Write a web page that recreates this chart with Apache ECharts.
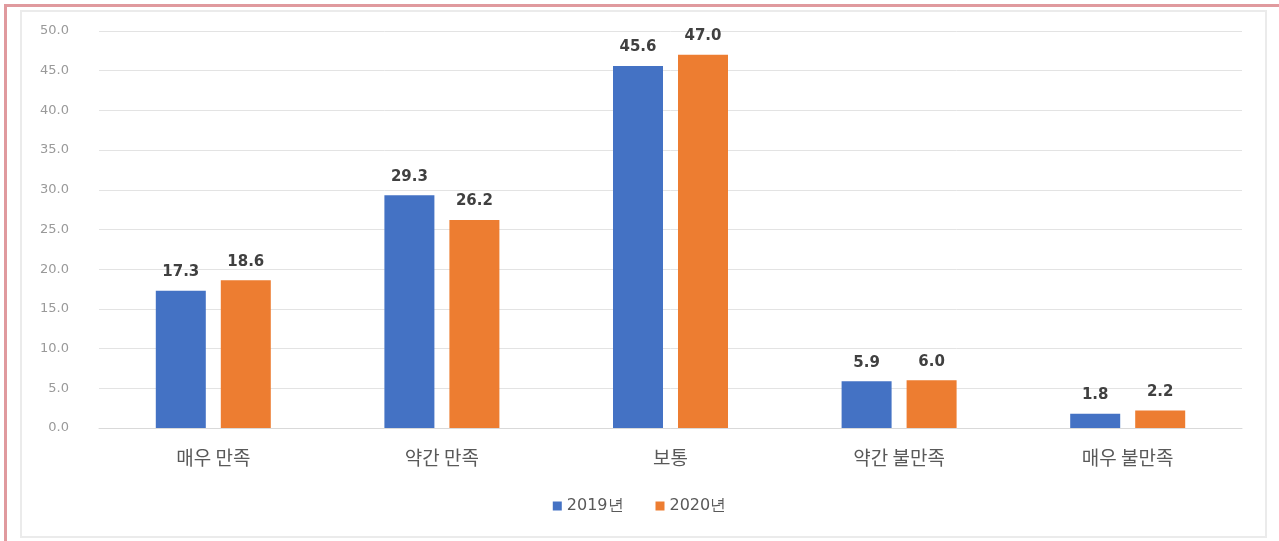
<!DOCTYPE html>
<html><head><meta charset="utf-8">
<script src="https://cdn.jsdelivr.net/npm/echarts@6/dist/echarts.min.js"></script>
<style>
html,body{margin:0;padding:0;background:#fff;}
#frame{position:absolute;left:4px;top:4px;width:1275px;height:537px;border-left:3px solid #e09a9e;border-top:3px solid #e09a9e;box-sizing:border-box;}
#inner{position:absolute;left:20px;top:10px;width:1247px;height:528px;border:2px solid #ebebeb;box-sizing:border-box;}
#chart{position:absolute;left:0;top:0;width:1279px;height:541px;}
</style></head>
<body>
<div id="frame"></div><div id="inner"></div>
<div id="chart"></div>
<script>
const categories = ['매우 만족', '약간 만족', '보통', '약간 불만족', '매우 불만족'];
const seriesNames = ['2019년', '2020년'];
const values2019 = [17.3, 29.3, 45.6, 5.9, 1.8];
const values2020 = [18.6, 26.2, 47.0, 6.0, 2.2];
const colors = ['#4472C4', '#ED7D31'];

const chart = echarts.init(document.getElementById('chart'), null, {renderer: 'canvas'});
const labelCfg = {
  show: true, position: 'top', distance: 11,
  formatter: p => p.value.toFixed(1),
  fontFamily: 'DejaVu Sans', fontSize: 15, fontWeight: 'bold', color: '#404040'
};
chart.setOption({
  animation: false,
  backgroundColor: 'transparent',
  grid: {left: 99, right: 37, top: 31, bottom: 113},
  legend: {
    data: seriesNames, bottom: 22, left: 'center',
    icon: 'rect', itemWidth: 9, itemHeight: 9, itemGap: 32,
    textStyle: {fontFamily: 'DejaVu Sans', fontSize: 16, color: '#595959'}
  },
  xAxis: {
    type: 'category', data: categories,
    axisLine: {show: true, lineStyle: {color: '#d9d9d9'}},
    axisTick: {show: false},
    axisLabel: {fontFamily: 'Noto Sans CJK KR', fontSize: 19, color: '#595959', margin: 20}
  },
  yAxis: {
    type: 'value', min: 0, max: 50, interval: 5,
    axisLine: {show: false}, axisTick: {show: false},
    axisLabel: {formatter: v => v.toFixed(1), fontFamily: 'DejaVu Sans', fontSize: 13, color: '#999999', margin: 30},
    splitLine: {lineStyle: {color: '#e3e3e3', width: 1}}
  },
  series: [
    {name: seriesNames[0], type: 'bar', data: values2019, barWidth: 50, barGap: '30%',
     itemStyle: {color: colors[0]}, label: labelCfg},
    {name: seriesNames[1], type: 'bar', data: values2020, barWidth: 50,
     itemStyle: {color: colors[1]}, label: labelCfg}
  ]
});
</script>
</body></html>
